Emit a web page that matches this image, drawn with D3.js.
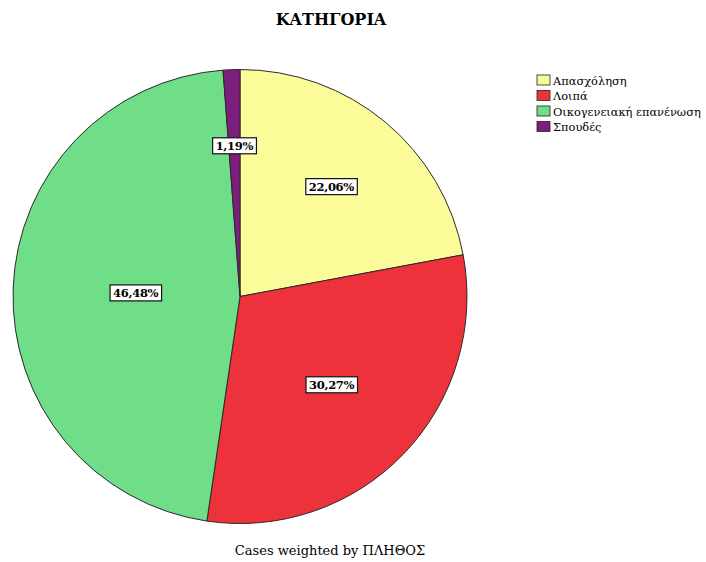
<!DOCTYPE html>
<html><head><meta charset="utf-8">
<script src="https://cdn.jsdelivr.net/npm/d3@7"></script>
<style>body{margin:0;background:#fff}svg{display:block}</style>
</head><body>
<svg id="c" width="706" height="562"></svg>
<script>
const categories = ["Απασχόληση", "Λοιπά", "Οικογενειακή επανένωση", "Σπουδές"];
const values = [22.06, 30.27, 46.48, 1.19];
const colors = ["#fbfb9a", "#ee323b", "#70dd88", "#7c1e7e"];
const title = "ΚΑΤΗΓΟΡΙΑ";
const footer = "Cases weighted by ΠΛΗΘΟΣ";

const labelRadiusFrac = [0.63, 0.56, 0.46, 0.665];
const FONT = "DejaVu Serif, serif";

const svg = d3.select("#c");
const cx = 240, cy = 296.5, r = 227;
const g = svg.append("g").attr("transform", `translate(${cx},${cy})`);
const pie = d3.pie().sort(null).value(d => d)(values);
const arc = d3.arc().innerRadius(0).outerRadius(r);
g.selectAll("path").data(pie).enter().append("path")
  .attr("d", arc).attr("fill", (d,i) => colors[i])
  .attr("stroke", "#2a2a2a").attr("stroke-width", 1);

const fmt = v => v.toFixed(2).replace(".", ",") + "%";
pie.forEach((d, i) => {
  const a = (d.startAngle + d.endAngle) / 2;
  const rr = r * labelRadiusFrac[i];
  const x = Math.sin(a) * rr, y = -Math.cos(a) * rr;
  const lg = g.append("g").attr("transform", `translate(${x},${y})`);
  const t = lg.append("text").text(fmt(values[i]))
    .attr("text-anchor", "middle").attr("dy", "0.36em")
    .attr("font-family", FONT).attr("font-weight", "bold")
    .attr("font-size", 11.5).attr("letter-spacing", -0.3).attr("fill", "#000");
  const bb = t.node().getBBox();
  lg.insert("rect", "text").attr("x", bb.x - 3).attr("y", bb.y - 1)
    .attr("width", bb.width + 6).attr("height", bb.height + 2)
    .attr("fill", "#fff").attr("stroke", "#111").attr("stroke-width", 1.2);
});

svg.append("text").attr("x", 331).attr("y", 25).attr("text-anchor", "middle")
  .attr("font-family", FONT).attr("font-weight", "bold")
  .attr("font-size", 16).text(title);
svg.append("text").attr("x", 330).attr("y", 555).attr("text-anchor", "middle")
  .attr("font-family", FONT)
  .attr("font-size", 13).text(footer);

const leg = svg.append("g").attr("transform", "translate(537,75)");
categories.forEach((c, i) => {
  const row = leg.append("g").attr("transform", `translate(0,${i * 15.5})`);
  row.append("rect").attr("x", 0).attr("y", 0).attr("width", 13).attr("height", 10)
    .attr("fill", colors[i]).attr("stroke", "#222").attr("stroke-width", 0.8);
  row.append("text").attr("x", 16).attr("y", 9.5)
    .attr("font-family", FONT).attr("font-size", 11.4).text(c);
});
</script>
</body></html>
